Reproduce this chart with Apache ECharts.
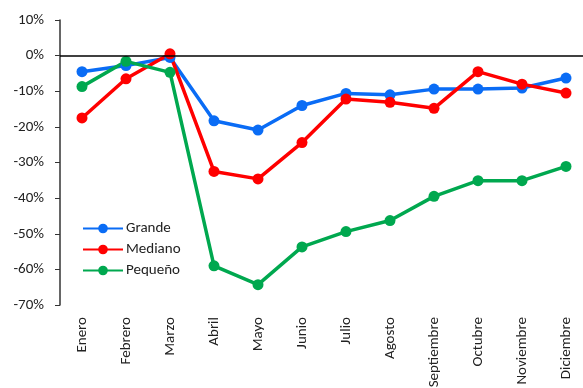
<!DOCTYPE html>
<html><head><meta charset="utf-8">
<script src="https://cdn.jsdelivr.net/npm/echarts@6/dist/echarts.min.js"></script>
<style>html,body{margin:0;padding:0;background:#fff}#c{width:583px;height:388px}</style>
</head><body><div id="c"></div>
<script>
const categories = ['Enero','Febrero','Marzo','Abril','Mayo','Junio','Julio','Agosto','Septiembre','Octubre','Noviembre','Diciembre'];
const grande  = [-4.5, -2.8, -0.5, -18.3, -20.9, -14.0, -10.6, -11.0, -9.4, -9.4, -9.1, -6.3];
const mediano = [-17.5, -6.5, 0.5, -32.5, -34.6, -24.4, -12.2, -13.1, -14.8, -4.5, -8.0, -10.5];
const pequeno = [-8.7, -1.6, -4.7, -59.0, -64.3, -53.7, -49.4, -46.3, -39.5, -35.1, -35.1, -31.1];
const yTicks = [10, 0, -10, -20, -30, -40, -50, -60, -70];

const font = 'Carlito, Lato, "Liberation Sans", sans-serif';
function mk(name, data, color) {
  return {
    name, type: 'line', data, color,
    symbol: 'circle', symbolSize: 11,
    lineStyle: { width: 3.5, color },
    itemStyle: { color },
    emphasis: { disabled: true }, animation: false
  };
}
const series = [mk('Grande', grande, '#0A6CF5'), mk('Mediano', mediano, '#FF0000'), mk('Pequeño', pequeno, '#00A84F')];
series[0].markLine = {
  silent: true, symbol: 'none', label: { show: false },
  lineStyle: { color: '#000', width: 1.5, type: 'solid' },
  data: [{ yAxis: 0 }], animation: false
};
const chart = echarts.init(document.getElementById('c'), null, { renderer: 'canvas' });
chart.setOption({
  backgroundColor: '#fff',
  animation: false,
  grid: { left: 60, top: 20, width: 528, bottom: 83, containLabel: false, outerBoundsMode: 'none' },
  legend: {
    orient: 'vertical', left: 77, top: 216, itemGap: 6, itemWidth: 40, itemHeight: 12,
    data: ['Grande', 'Mediano', 'Pequeño'],
    textStyle: { fontFamily: font, fontSize: 15, color: '#222', padding: [0, 0, 0, -2] }
  },
  xAxis: {
    type: 'category', data: categories, boundaryGap: true,
    axisLine: { show: false }, axisTick: { show: false },
    axisLabel: { rotate: 90, fontFamily: font, fontSize: 15, color: '#222', margin: 12, interval: 0 }
  },
  yAxis: {
    type: 'value', min: -70, max: 10, interval: 10,
    axisLine: { show: true, lineStyle: { color: '#333', width: 1.5 } },
    axisTick: { show: true, inside: false, length: 5, lineStyle: { color: '#333' } },
    splitLine: { show: false },
    axisLabel: {
      fontFamily: font, fontSize: 15, color: '#222', margin: 16,
      formatter: v => yTicks.includes(v) ? v + '%' : ''
    }
  },
  series
});
</script></body></html>
